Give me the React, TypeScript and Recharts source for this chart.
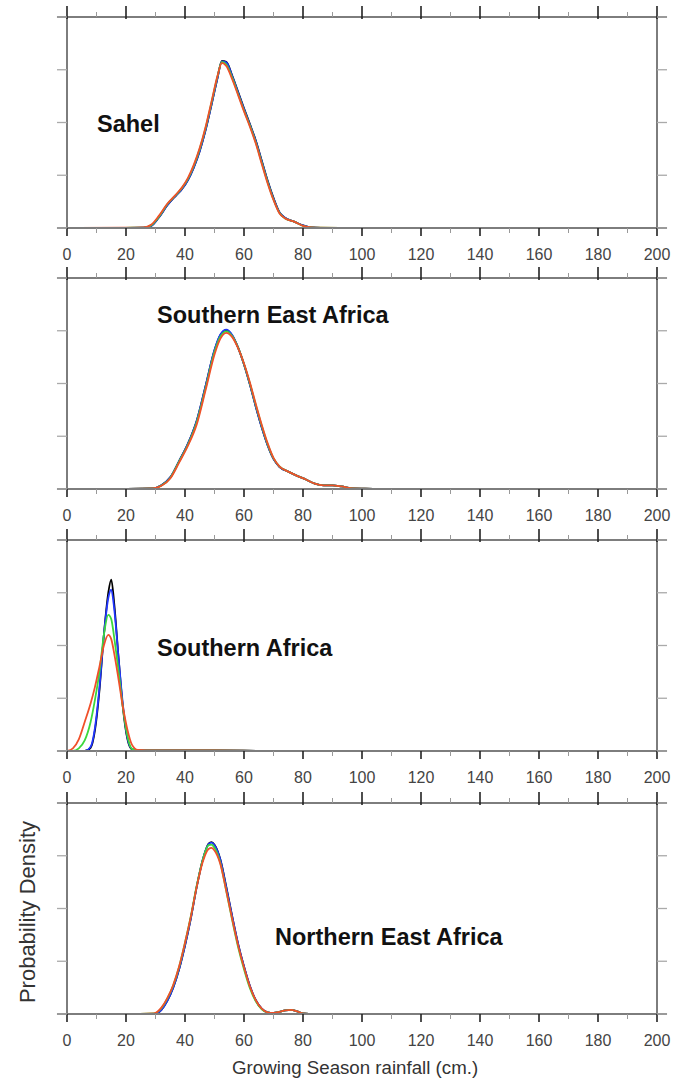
import React from "react";
import { LineChart, Line, XAxis, YAxis, ReferenceLine } from "recharts";

const xTicks = [0, 10, 20, 30, 40, 50, 60, 70, 80, 90, 100, 110, 120, 130, 140, 150, 160, 170, 180, 190, 200];
const yTicks = [0, 1, 2, 3, 4];

// Sahel
const sahelX = [4, 20, 26, 28.5, 31, 34, 37, 39, 41, 43, 45, 47, 49, 51, 52.5, 54, 56, 58, 60, 62, 64, 66, 68, 70, 72, 74, 77, 80, 83, 86, 95, 103];
const sahelBlack = [0, 0.003, 0.006, 0.04, 0.19, 0.43, 0.62, 0.74, 0.91, 1.15, 1.46, 1.86, 2.34, 2.84, 3.17, 3.15, 2.89, 2.58, 2.27, 1.97, 1.66, 1.28, 0.9, 0.57, 0.3, 0.19, 0.12, 0.05, 0.01, 0.004, 0.001, 0];
const sahelBlue = [0, 0.003, 0.006, 0.04, 0.19, 0.43, 0.62, 0.74, 0.91, 1.15, 1.46, 1.86, 2.34, 2.84, 3.16, 3.14, 2.88, 2.57, 2.26, 1.96, 1.65, 1.27, 0.89, 0.56, 0.3, 0.19, 0.12, 0.05, 0.01, 0.004, 0.001, 0];
const sahelGreen = [0, 0.004, 0.008, 0.05, 0.2, 0.45, 0.63, 0.76, 0.93, 1.18, 1.5, 1.9, 2.38, 2.87, 3.15, 3.1, 2.85, 2.54, 2.23, 1.94, 1.62, 1.24, 0.87, 0.54, 0.29, 0.18, 0.12, 0.04, 0.01, 0.005, 0.002, 0];
const sahelRed = [0, 0.005, 0.01, 0.06, 0.22, 0.46, 0.64, 0.77, 0.95, 1.2, 1.52, 1.92, 2.4, 2.88, 3.13, 3.07, 2.82, 2.52, 2.21, 1.92, 1.6, 1.22, 0.85, 0.53, 0.28, 0.18, 0.12, 0.04, 0.01, 0.005, 0.002, 0];

// Southern East Africa
const seaX = [6, 20, 29, 32, 35, 38, 41, 44, 47, 50, 52, 54, 56, 58, 60, 62, 64, 66, 68, 70, 72, 75, 78, 81, 84, 87, 90, 93, 97, 101, 106];
const seaBlack = [0, 0.003, 0.01, 0.07, 0.22, 0.53, 0.86, 1.3, 1.96, 2.63, 2.92, 3.01, 2.91, 2.68, 2.36, 1.98, 1.56, 1.17, 0.83, 0.57, 0.42, 0.33, 0.25, 0.18, 0.1, 0.07, 0.07, 0.05, 0.01, 0.005, 0];
const seaBlue = [0, 0.003, 0.01, 0.07, 0.22, 0.53, 0.86, 1.3, 1.96, 2.64, 2.93, 3.02, 2.92, 2.68, 2.36, 1.98, 1.56, 1.17, 0.83, 0.57, 0.42, 0.33, 0.25, 0.18, 0.1, 0.07, 0.07, 0.05, 0.01, 0.005, 0];
const seaGreen = [0, 0.003, 0.01, 0.065, 0.21, 0.52, 0.84, 1.27, 1.92, 2.6, 2.89, 2.99, 2.9, 2.68, 2.37, 2.0, 1.59, 1.2, 0.85, 0.58, 0.43, 0.33, 0.25, 0.18, 0.1, 0.07, 0.07, 0.05, 0.01, 0.005, 0];
const seaRed = [0, 0.003, 0.01, 0.06, 0.2, 0.5, 0.82, 1.23, 1.88, 2.55, 2.85, 2.96, 2.88, 2.67, 2.38, 2.02, 1.61, 1.22, 0.87, 0.59, 0.43, 0.33, 0.25, 0.18, 0.1, 0.07, 0.07, 0.05, 0.01, 0.005, 0];

// Southern Africa
const saX = [0, 2, 4, 6, 8, 9.5, 11, 12.5, 14, 15, 16, 17.5, 19, 20.5, 22, 24, 30, 40, 50, 65];
const saBlack = [0, 0, 0, 0, 0.06, 0.4, 1.15, 2.2, 3.0, 3.25, 2.8, 1.75, 0.8, 0.22, 0.03, 0.01, 0.01, 0.01, 0.01, 0];
const saBlue = [0, 0, 0, 0, 0.08, 0.45, 1.2, 2.2, 2.9, 3.06, 2.7, 1.75, 0.85, 0.25, 0.04, 0.01, 0.01, 0.01, 0.01, 0];
const saGreen = [0, 0, 0.05, 0.2, 0.55, 0.98, 1.5, 2.2, 2.58, 2.5, 2.15, 1.5, 0.8, 0.28, 0.04, 0.01, 0.01, 0.01, 0.01, 0];
const saRed = [0, 0.05, 0.22, 0.55, 0.9, 1.22, 1.6, 2.0, 2.2, 2.12, 1.85, 1.35, 0.82, 0.4, 0.12, 0.02, 0.01, 0.01, 0.01, 0];

// Northern East Africa
const neaX = [0, 20, 29.5, 32, 34, 36, 38, 40, 42, 44, 46, 48, 49, 50, 52, 54, 56, 58, 60, 62, 64, 66, 68, 70, 72, 74, 76, 78, 80, 84, 90, 100];
const neaBlack = [0, 0, 0, 0.08, 0.25, 0.5, 0.85, 1.3, 1.82, 2.42, 2.92, 3.23, 3.26, 3.21, 2.93, 2.41, 1.85, 1.33, 0.9, 0.53, 0.26, 0.1, 0.03, 0.02, 0.04, 0.07, 0.08, 0.05, 0.01, 0, 0, 0];
const neaBlue = [0, 0, 0, 0.08, 0.25, 0.5, 0.85, 1.3, 1.82, 2.42, 2.92, 3.22, 3.25, 3.2, 2.92, 2.4, 1.85, 1.33, 0.9, 0.53, 0.26, 0.1, 0.03, 0.02, 0.04, 0.07, 0.08, 0.05, 0.01, 0, 0, 0];
const neaGreen = [0, 0, 0.01, 0.11, 0.29, 0.54, 0.89, 1.35, 1.86, 2.44, 2.92, 3.2, 3.21, 3.15, 2.86, 2.33, 1.78, 1.27, 0.85, 0.49, 0.24, 0.09, 0.03, 0.02, 0.04, 0.07, 0.08, 0.05, 0.01, 0, 0, 0];
const neaRed = [0, 0, 0.01, 0.12, 0.3, 0.55, 0.9, 1.35, 1.85, 2.42, 2.88, 3.13, 3.15, 3.1, 2.84, 2.33, 1.8, 1.3, 0.88, 0.52, 0.26, 0.1, 0.03, 0.02, 0.04, 0.07, 0.08, 0.05, 0.01, 0, 0, 0];

const FRAME = "#7d7d7d";
const FONT = "'Liberation Sans', Arial, Helvetica, sans-serif";

const toRows = (xs: number[], k: number[], b: number[], g: number[], r: number[]) =>
  xs.map((x, i) => ({ x, black: k[i], blue: b[i], green: g[i], red: r[i] }));

const panels = [
  { top: 0, label: "Sahel", lx: 97, ly: 124, rows: toRows(sahelX, sahelBlack, sahelBlue, sahelGreen, sahelRed) },
  { top: 261, label: "Southern East Africa", lx: 157, ly: 315, rows: toRows(seaX, seaBlack, seaBlue, seaGreen, seaRed) },
  { top: 523, label: "Southern Africa", lx: 157, ly: 648, rows: toRows(saX, saBlack, saBlue, saGreen, saRed) },
  { top: 786, label: "Northern East Africa", lx: 275, ly: 937, rows: toRows(neaX, neaBlack, neaBlue, neaGreen, neaRed) },
];

const series = [
  { key: "black", color: "#000000" },
  { key: "blue", color: "#2035ff" },
  { key: "green", color: "#3cd83c" },
  { key: "red", color: "#f0502a" },
];

const isMajor = (v: number) => v % 20 === 0;

function BottomTick(props: any) {
  const { x, y, payload } = props;
  const major = isMajor(payload.value);
  return (
    <g>
      <line x1={x} x2={x} y1={y} y2={y + (major ? 8 : 5)} stroke={major ? "#222" : "#999"} strokeWidth={major ? 1.6 : 1} />
      {major && (
        <text x={x} y={y + 32} textAnchor="middle" fill="#444" fontSize={16} fontFamily={FONT}>
          {payload.value}
        </text>
      )}
    </g>
  );
}

function TopTick(props: any) {
  const { x, y, payload } = props;
  const major = isMajor(payload.value);
  return (
    <line x1={x} x2={x} y1={y + (major ? 2 : 0)} y2={y - (major ? 11 : 5)} stroke={major ? "#222" : "#999"} strokeWidth={major ? 1.6 : 1} />
  );
}

function LeftTick(props: any) {
  const { x, y } = props;
  return <line x1={x} x2={x - 10} y1={y} y2={y} stroke="#aaa" strokeWidth={1.3} />;
}

function RightTick(props: any) {
  const { x, y } = props;
  return <line x1={x} x2={x + 10} y1={y} y2={y} stroke="#aaa" strokeWidth={1.3} />;
}

function Panel({ rows }: { rows: any[] }) {
  return (
    <LineChart width={688} height={262} data={rows} margin={{ top: 0, right: 0, bottom: 0, left: 0 }}>
      <XAxis
        xAxisId="b" dataKey="x" type="number" domain={[0, 200]} allowDataOverflow ticks={xTicks} interval={0}
        orientation="bottom" height={34} tickSize={0} tickMargin={0} tickLine={false}
        axisLine={{ stroke: FRAME, strokeWidth: 2 }} tick={(p: any) => <BottomTick {...p} />}
      />
      <XAxis
        xAxisId="t" dataKey="x" type="number" domain={[0, 200]} allowDataOverflow ticks={xTicks} interval={0}
        orientation="top" height={17} tickSize={0} tickMargin={0} tickLine={false}
        axisLine={{ stroke: FRAME, strokeWidth: 2 }} tick={(p: any) => <TopTick {...p} />}
      />
      <YAxis
        yAxisId="l" type="number" domain={[0, 4]} allowDataOverflow ticks={yTicks} interval={0}
        orientation="left" width={67} tickSize={0} tickMargin={0} tickLine={false}
        axisLine={{ stroke: FRAME, strokeWidth: 2 }} tick={(p: any) => <LeftTick {...p} />}
      />
      <YAxis
        yAxisId="r" type="number" domain={[0, 4]} allowDataOverflow ticks={yTicks} interval={0}
        orientation="right" width={31} tickSize={0} tickMargin={0} tickLine={false}
        axisLine={{ stroke: FRAME, strokeWidth: 2 }} tick={(p: any) => <RightTick {...p} />}
      />
      <ReferenceLine xAxisId="b" yAxisId="l" ifOverflow="visible" stroke={FRAME} strokeWidth={2}
        segment={[{ x: -3.4, y: 0 }, { x: 203.4, y: 0 }]} />
      <ReferenceLine xAxisId="b" yAxisId="l" ifOverflow="visible" stroke={FRAME} strokeWidth={2}
        segment={[{ x: -3.4, y: 4 }, { x: 203.4, y: 4 }]} />
      {series.map(s => (
        <Line
          key={s.key} xAxisId="b" yAxisId="l" type="monotone" dataKey={s.key}
          stroke={s.color} strokeWidth={1.8} dot={false} activeDot={false} isAnimationActive={false}
        />
      ))}
    </LineChart>
  );
}

export default function App() {
  return (
    <div style={{ position: "absolute", left: 0, top: 0, width: 688, height: 1080, background: "#fff", fontFamily: FONT }}>
      {panels.map(p => (
        <div key={p.label} style={{ position: "absolute", left: 0, top: p.top, width: 688, height: 262 }}>
          <Panel rows={p.rows} />
          <div style={{
            position: "absolute", left: p.lx, top: p.ly - p.top - 14, fontSize: 23.5, fontWeight: "bold",
            color: "#111", lineHeight: "28px", whiteSpace: "nowrap",
          }}>
            {p.label}
          </div>
        </div>
      ))}
      <div style={{
        position: "absolute", left: 232, top: 1056, fontSize: 18.7,
        color: "#333", lineHeight: "24px", whiteSpace: "nowrap",
      }}>
        Growing Season rainfall (cm.)
      </div>
      <div style={{ position: "absolute", left: 28, top: 912, width: 0, height: 0 }}>
        <div style={{
          position: "absolute", left: -120, top: -13, width: 240, textAlign: "center", fontSize: 22,
          color: "#333", lineHeight: "26px", transform: "rotate(-90deg)", whiteSpace: "nowrap",
        }}>
          Probability Density
        </div>
      </div>
    </div>
  );
}
